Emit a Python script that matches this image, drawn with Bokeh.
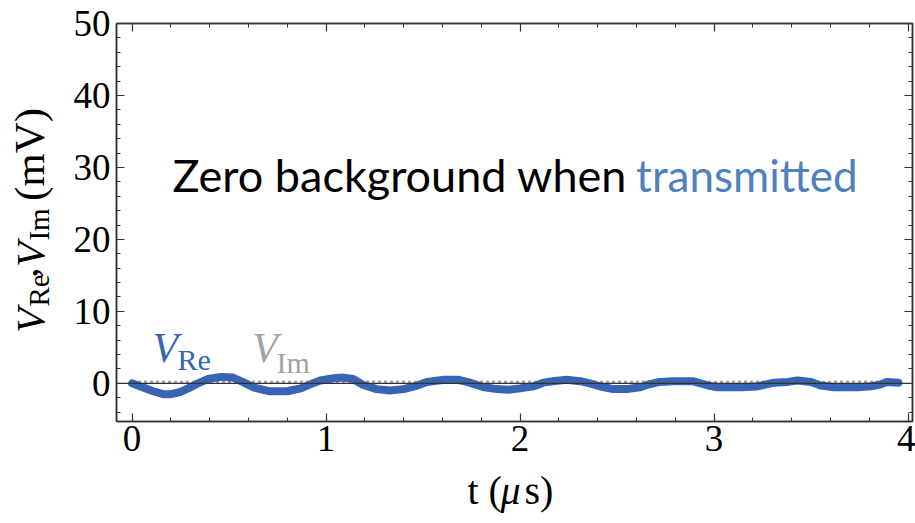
import numpy as np
from bokeh.plotting import figure
from bokeh.layouts import row, column
from bokeh.models import LinearAxis, FixedTicker, Span, Label, Range1d
from bokeh.embed import file_html
from bokeh.resources import INLINE

# ---- data ----
t_re = [0.00, 0.04, 0.11, 0.16, 0.20, 0.25, 0.29, 0.34, 0.39, 0.46, 0.52, 0.57, 0.63, 0.71, 0.80,
        0.87, 0.94, 0.97, 1.04, 1.09, 1.14, 1.19, 1.26, 1.33, 1.40, 1.47, 1.52, 1.61, 1.68, 1.74,
        1.81, 1.88, 1.94, 2.00, 2.07, 2.12, 2.17, 2.24, 2.31, 2.36, 2.41, 2.48, 2.55, 2.62, 2.67,
        2.72, 2.79, 2.89, 2.97, 3.02, 3.14, 3.22, 3.27, 3.31, 3.38, 3.43, 3.50, 3.55, 3.62, 3.74,
        3.81, 3.86, 3.89, 3.95]
v_re = [0.0, -0.4, -1.1, -1.5, -1.5, -1.2, -0.7, 0.0, 0.6, 0.9, 0.8, 0.2, -0.6, -1.1, -1.1,
        -0.7, 0.1, 0.4, 0.7, 0.8, 0.6, -0.2, -0.8, -1.0, -0.8, -0.3, 0.2, 0.5, 0.5, 0.1,
        -0.5, -0.8, -0.9, -0.7, -0.4, 0.1, 0.3, 0.5, 0.3, 0.0, -0.4, -0.8, -0.8, -0.55, -0.1,
        0.2, 0.3, 0.3, -0.3, -0.55, -0.55, -0.45, -0.15, 0.1, 0.2, 0.4, 0.2, -0.3, -0.55, -0.55,
        -0.4, -0.15, 0.2, 0.1]
t_im = [0.00, 0.25, 0.50, 0.75, 1.00, 1.25, 1.50, 1.75, 2.00, 2.25, 2.50, 2.75, 3.00, 3.25,
        3.50, 3.75, 3.95]
v_im = [0.2, 0.15, 0.2, 0.15, 0.2, 0.2, 0.15, 0.2, 0.15, 0.2, 0.15, 0.2, 0.15, 0.2, 0.15, 0.2, 0.15]

x_major = [0, 1, 2, 3, 4]
x_minor = [0.2, 0.4, 0.6, 0.8, 1.2, 1.4, 1.6, 1.8, 2.2, 2.4, 2.6, 2.8, 3.2, 3.4, 3.6, 3.8]
y_major = [0, 10, 20, 30, 40, 50]
y_minor = [-4, -2, 2, 4, 6, 8, 12, 14, 16, 18, 22, 24, 26, 28, 32, 34, 36, 38, 42, 44, 46, 48]

SERIF = "Liberation Serif"
FRAME = "#333333"
BLUE = "#3764b3"
GRAY = "#a3a3a3"

W_LEFT = 60
FRAME_TOP = 23
FRAME_BOTTOM = 421
H_MAIN = 467
H_BOTTOM = 523 - H_MAIN

p = figure(width=915 - W_LEFT, height=H_MAIN, x_range=Range1d(-0.08, 4.023), y_range=Range1d(-5.3, 50),
           output_backend="svg", toolbar_location=None,
           min_border_left=56, min_border_right=3, min_border_top=FRAME_TOP,
           min_border_bottom=H_MAIN - FRAME_BOTTOM)
p.grid.visible = False
p.outline_line_color = FRAME
p.outline_line_width = 1.5


def style_axis(ax, major, minor, labels=True):
    ax.ticker = FixedTicker(ticks=major, minor_ticks=minor)
    ax.major_tick_in = 8
    ax.major_tick_out = 0
    ax.minor_tick_in = 4
    ax.minor_tick_out = 0
    ax.axis_line_color = FRAME
    ax.axis_line_width = 1.5
    ax.major_tick_line_color = FRAME
    ax.minor_tick_line_color = FRAME
    ax.major_tick_line_width = 1.2
    ax.minor_tick_line_width = 1.0
    ax.major_label_text_font = SERIF
    ax.major_label_text_color = "black"
    if labels:
        ax.major_label_text_font_size = "37px"
    else:
        ax.major_label_text_font_size = "0px"
        ax.major_label_text_alpha = 0


style_axis(p.xaxis[0], x_major, x_minor)
p.xaxis[0].major_label_standoff = 4
style_axis(p.yaxis[0], y_major, y_minor)
p.yaxis[0].major_label_standoff = 6

top = LinearAxis()
style_axis(top, x_major, x_minor, labels=False)
p.add_layout(top, "above")
right = LinearAxis()
style_axis(right, y_major, y_minor, labels=False)
p.add_layout(right, "right")

# data
p.line(t_im, v_im, line_color=GRAY, line_width=3, line_dash="3 3")
p.line(t_re, v_re, line_color=BLUE, line_width=8, line_join="round", line_cap="round")
p.add_layout(Span(location=0, dimension="width", line_color=FRAME, line_width=1.2))

# in-plot labels
p.add_layout(Label(x=0.106, y=4.85, text="V", text_font=SERIF, text_font_style="italic",
                   text_font_size="42px", text_color=BLUE, text_baseline="alphabetic"))
p.add_layout(Label(x=0.235, y=3.3, text="Re", text_font=SERIF,
                   text_font_size="30px", text_color=BLUE, text_baseline="alphabetic"))
p.add_layout(Label(x=0.62, y=4.85, text="V", text_font=SERIF, text_font_style="italic",
                   text_font_size="42px", text_color=GRAY, text_baseline="alphabetic"))
p.add_layout(Label(x=0.745, y=2.9, text="Im", text_font=SERIF,
                   text_font_size="30px", text_color=GRAY, text_baseline="alphabetic"))

p.add_layout(Label(x=0.209, y=29.0, text="Zero background when", text_font="Lato",
                   text_font_size="45px", text_color="black", text_baseline="alphabetic"))
p.add_layout(Label(x=3.74, y=29.0, text="transmitted", text_font="Lato", text_align="right",
                   text_font_size="44px", text_color="#4f81bd", text_baseline="alphabetic"))

# ---- left strip: rotated y-axis label; its frame is aligned with the main frame,
#      so the y range is expressed in page pixels between FRAME_BOTTOM and FRAME_TOP ----
left = figure(width=W_LEFT, height=H_MAIN, x_range=Range1d(0, W_LEFT),
              y_range=Range1d(FRAME_BOTTOM, FRAME_TOP),
              output_backend="svg", toolbar_location=None, min_border=0,
              x_axis_location=None, y_axis_location=None)
left.grid.visible = False
left.outline_line_color = None
ang = np.pi / 2


def ylab(x, y, text, size, italic=False):
    left.add_layout(Label(x=x, y=y, text=text, angle=ang, text_font=SERIF,
                          text_font_style="italic" if italic else "normal",
                          text_font_size=size, text_color="black",
                          text_align="center", text_baseline="middle"))


ylab(29, 320, "V", "41px", italic=True)
ylab(38, 290, "Re", "29px")
ylab(23, 272, ",", "41px")
ylab(29, 254, "V", "41px", italic=True)
ylab(38, 224, "Im", "29px")
ylab(29, 154, "(mV)", "43px")

# ---- bottom strip: x-axis label, coordinates in pixels of the page ----
bottom = figure(width=915, height=H_BOTTOM, x_range=Range1d(0, 915), y_range=Range1d(523, H_MAIN),
                output_backend="svg", toolbar_location=None, min_border=0,
                x_axis_location=None, y_axis_location=None)
bottom.grid.visible = False
bottom.outline_line_color = None


def xlab(x, text, italic=False):
    bottom.add_layout(Label(x=x, y=490, text=text, text_font=SERIF,
                            text_font_style="italic" if italic else "normal",
                            text_font_size="40px", text_color="black", text_baseline="alphabetic"))


xlab(467, "t (")
xlab(500, "μ", italic=True)
xlab(524, "s)")

layout = column(row(left, p, spacing=0), bottom, spacing=0)
open("out.html", "w").write(file_html(layout, INLINE))
